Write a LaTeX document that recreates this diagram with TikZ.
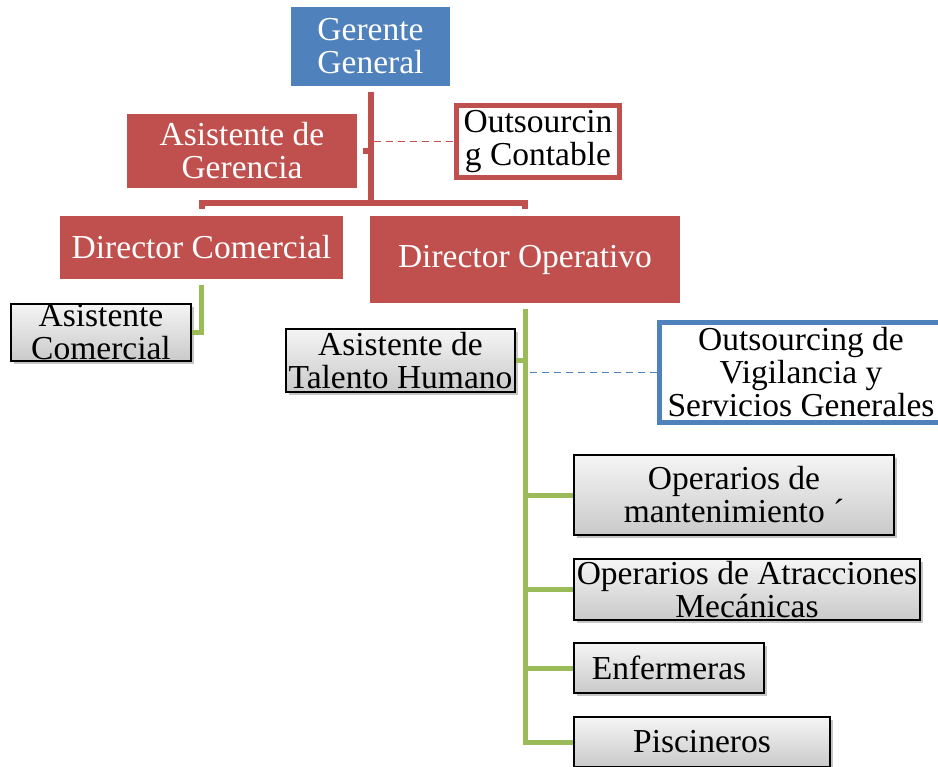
\documentclass[tikz,border=0pt]{standalone}
\usepackage{fontspec}
\setmainfont{Liberation Serif}
\usetikzlibrary{shadows}
\definecolor{officeBlue}{RGB}{79,129,189}
\definecolor{officeRed}{RGB}{192,80,77}
\definecolor{officeGreen}{RGB}{155,187,89}

\begin{document}
\begin{tikzpicture}[x=1pt, y=-1pt,
    box/.style={inner sep=0pt, align=center,
                font=\fontsize{33.5}{33}\selectfont},
    bluebox/.style={box, fill=officeBlue, text=white},
    redbox/.style={box, fill=officeRed, text=white},
    outbox/.style={box, fill=white, line width=5pt},
    greybox/.style={box, draw=black, line width=1.6pt,
                    top color=gray!8, bottom color=gray!42,
                    drop shadow={shadow xshift=2.5pt, shadow yshift=-3pt,
                                 fill=black!45, opacity=0.5}},
    redline/.style={officeRed, line width=6pt},
    greenline/.style={officeGreen, line width=5pt},
    linkdash/.style={line width=1.8pt, dash pattern=on 7pt off 5pt}]
  \useasboundingbox (0,0) rectangle (938,767);
  \clip (0,0) rectangle (938,767);

  % top level
  \node [bluebox, minimum width=159pt, minimum height=79pt]
        (gerente) at (370.5,46.5) {Gerente\\General};
  \node [redbox, minimum width=230pt, minimum height=74pt]
        (asger) at (242,151) {Asistente de\\Gerencia};
  \node [outbox, draw=officeRed, minimum width=163pt, minimum height=72pt]
        (outcont) at (538,141.5) {Outsourcin\\g Contable};

  % directors
  \node [redbox, minimum width=283pt, minimum height=63pt]
        (dircom) at (201.5,247.5) {Director Comercial};
  \node [redbox, minimum width=310pt, minimum height=87pt]
        (dirop) at (525,259.5) {Director Operativo};

  % staff
  \node [greybox, minimum width=180pt, minimum height=57pt]
        (ascom) at (101,332.5) {Asistente\\Comercial};
  \node [greybox, minimum width=229pt, minimum height=63pt]
        (talento) at (400.5,360.5) {Asistente de\\Talento Humano};
  \node [outbox, draw=officeBlue, minimum width=283pt, minimum height=100pt]
        (outvig) at (801,372.5)
        {Outsourcing de\\Vigilancia y\\Servicios Generales};
  \node [greybox, minimum width=320pt, minimum height=80pt]
        (mant) at (734,495) {Operarios de\\mantenimiento ´};
  \node [greybox, minimum width=346pt, minimum height=61pt]
        (atrac) at (747,589.5) {Operarios de Atracciones\\Mecánicas};
  \node [greybox, minimum width=190pt, minimum height=50pt]
        (enferm) at (669,668) {Enfermeras};
  \node [greybox, minimum width=256pt, minimum height=50pt]
        (piscin) at (702,742) {Piscineros};

  % red tree
  \coordinate (bar) at (gerente.south |- 0,203);
  \draw [redline] ([yshift=-6pt]gerente.south) -- (bar);
  \draw [redline] ([yshift=7pt]dircom.north) |- (bar)
        -| ([yshift=7pt]dirop.north);
  \draw [redline] (gerente.south |- asger.east) -- ([xshift=6pt]asger.east);
  \draw [linkdash, officeRed] ([xshift=3pt]gerente.south |- outcont.west)
        -- (outcont.west);

  % green tree
  \draw [greenline] ([yshift=-6pt]dircom.south) |- (ascom.east);
  \draw [greenline] ([yshift=-6pt]dirop.south) |- (piscin.west);
  \draw [greenline] (dirop.south |- talento.east) -- (talento.east);
  \foreach \n in {mant, atrac, enferm}
    \draw [greenline] (dirop.south |- \n.west) -- (\n.west);
  \draw [linkdash, officeBlue] ([xshift=5pt]dirop.south |- outvig.west)
        -- (outvig.west);
\end{tikzpicture}
\end{document}
